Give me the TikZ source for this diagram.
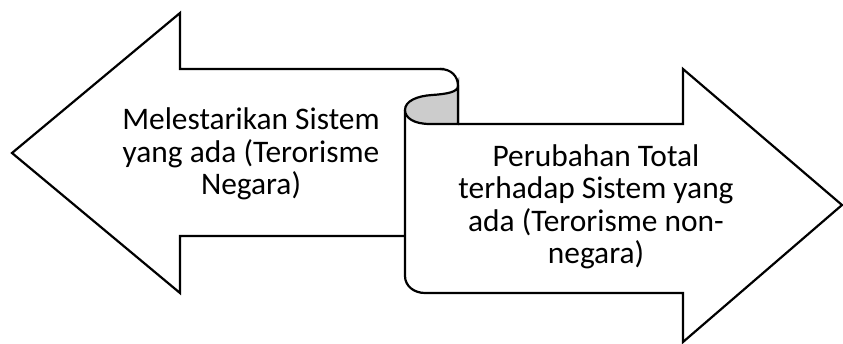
\documentclass[tikz,border=0pt]{standalone}
\usepackage{fontspec}
\setmainfont{Carlito}
\begin{document}
\begin{tikzpicture}[x=1pt,y=-1pt,
  outline/.style={draw=black,line width=2.2pt,line join=miter},
  fold/.style={outline,fill=black!20},
  label/.style={align=center,inner sep=0pt,font=\fontsize{31.4}{32.5}\selectfont}]
\useasboundingbox (0,0) rectangle (843,343);
\clip (0,0) rectangle (843,343);
% left-pointing arrow
\draw[outline,fill=white] (444,69) -- (180,69) -- (180,13) -- (12,153) -- (180,293)
  -- (180,236) -- (405,236);
% right-pointing arrow with the rolled scroll body
\draw[outline,fill=white] (458,124) -- (683,124) -- (683,69) -- (842,205) -- (683,342)
  -- (683,293) -- (425,293) .. controls (414,293) and (405,286) .. (405,276)
  -- (405,110);
% top edge of the scroll curling over
\draw[outline] (440,69) .. controls (451,69) and (458,76) .. (458,86) -- (458,124);
% shaded underside of the curl
\draw[fold] (458,124) -- (430,124) .. controls (414,124) and (405,118) .. (405,110)
  .. controls (405,101) and (417,96) .. (432,95)
  .. controls (447,94) and (458,92) .. (458,86) -- cycle;
\node[label] (left) at (251,154) {Melestarikan Sistem\\yang ada (Terorisme\\Negara)};
\node[label] (right) at (596,207) {Perubahan Total\\terhadap Sistem yang\\ada (Terorisme non-\\negara)};
\end{tikzpicture}
\end{document}
